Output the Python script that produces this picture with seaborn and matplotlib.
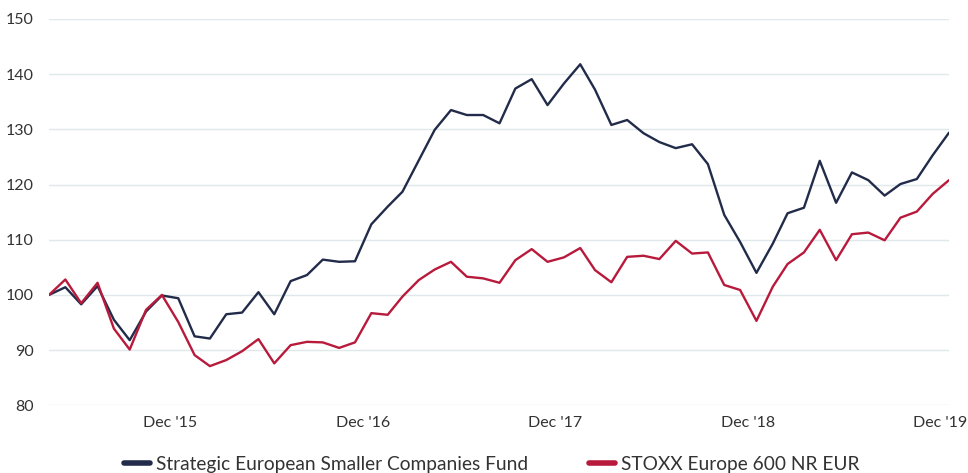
import matplotlib
matplotlib.use('Agg')
import matplotlib.pyplot as plt
import seaborn as sns
import pandas as pd

# monthly index values, rebased to 100
dates = pd.date_range('2015-04-30', periods=57, freq='ME')
fund = [100.0, 101.4, 98.3, 101.6, 95.5, 91.8, 97.0, 99.9, 99.4, 92.5,
        92.1, 96.5, 96.8, 100.5, 96.5, 102.5, 103.6, 106.4, 106.0, 106.1,
        112.8, 116.0, 118.7, 124.4, 129.9, 133.5, 132.6, 132.6, 131.1, 137.4,
        139.1, 134.4, 138.3, 141.8, 137.2, 130.8, 131.7, 129.3, 127.7, 126.6,
        127.3, 123.7, 114.5, 109.6, 104.0, 109.3, 114.8, 115.8, 124.3, 116.7,
        122.2, 120.8, 118.0, 120.1, 121.0, 125.3, 129.4]
index = [100.0, 102.8, 98.5, 102.2, 93.9, 90.1, 97.3, 100.0, 95.1, 89.1,
         87.1, 88.2, 89.8, 92.0, 87.6, 90.9, 91.5, 91.4, 90.4, 91.4,
         96.7, 96.4, 99.7, 102.7, 104.6, 106.0, 103.3, 103.0, 102.2, 106.3,
         108.3, 106.0, 106.8, 108.5, 104.5, 102.3, 106.9, 107.1, 106.5, 109.8,
         107.5, 107.7, 101.8, 100.9, 95.3, 101.5, 105.6, 107.7, 111.8, 106.3,
         111.0, 111.3, 109.9, 114.0, 115.1, 118.3, 120.8]
series_names = ['Strategic European Smaller Companies Fund', 'STOXX Europe 600 NR EUR']
tick_dates = pd.to_datetime(['2015-12-15', '2016-12-15', '2017-12-15', '2018-12-15', '2019-12-15'])
tick_labels = ["Dec '15", "Dec '16", "Dec '17", "Dec '18", "Dec '19"]
y_ticks = [80, 90, 100, 110, 120, 130, 140, 150]

df = pd.concat([
    pd.DataFrame({'Date': dates, 'Value': fund, 'Series': series_names[0]}),
    pd.DataFrame({'Date': dates, 'Value': index, 'Series': series_names[1]}),
])

sns.set_style('white')
plt.rcParams['font.family'] = ['Lato', 'DejaVu Sans']

fig = plt.figure(figsize=(9.68, 4.73), dpi=100)
ax = fig.add_axes([49 / 968, 1 - 405.3 / 473, 900 / 968, (405.3 - 19) / 473])

sns.lineplot(data=df, x='Date', y='Value', hue='Series', ax=ax,
             palette=['#222c4a', '#b81a3c'], linewidth=1.7, legend=False)

ax.set_xlim(dates[0], dates[-1])
ax.set_ylim(80, 150)
ax.set_yticks(y_ticks)
ax.set_xticks(tick_dates)
ax.set_xticklabels(tick_labels)
ax.grid(axis='y', color='#dfe8ea', linewidth=1)
ax.grid(axis='x', visible=False)
ax.set_axisbelow(True)
for s in ax.spines.values():
    s.set_visible(False)
ax.tick_params(axis='both', length=0, labelsize=11.5, colors='#333333')
ax.tick_params(axis='y', pad=11)
ax.tick_params(axis='x', pad=8)
ax.set_xlabel('')
ax.set_ylabel('')

handles = ax.get_lines()[:2]
fig.legend(handles, series_names, loc='center', bbox_to_anchor=(492 / 968, 0.018),
           ncol=2, frameon=False, fontsize=13.8, handlelength=1.35, handletextpad=0.3,
           columnspacing=3.2, labelcolor='#333333')
for h in fig.legends[0].legend_handles:
    h.set_linewidth(4)

fig.savefig('out.png', dpi=100)
